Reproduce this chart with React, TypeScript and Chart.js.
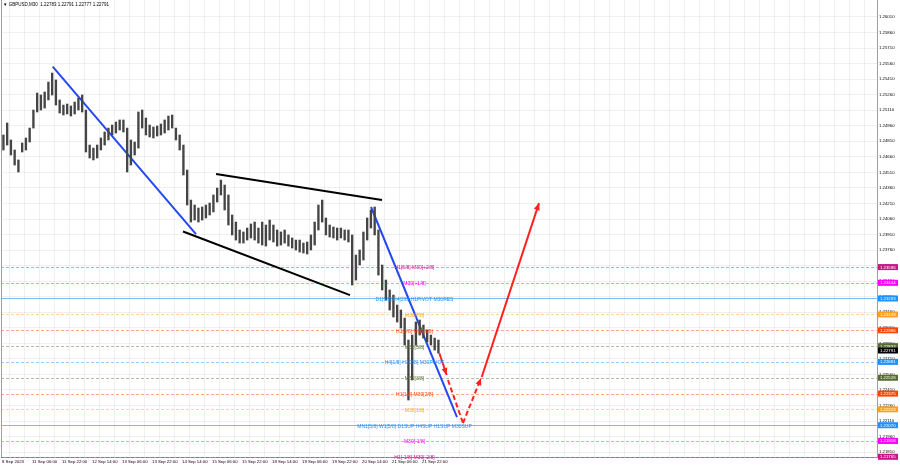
import React, { useEffect, useRef } from "react";
import { Chart, registerables } from "chart.js";
Chart.register(...registerables);

// ---- data (GBPUSD M30, aggregated 4 bars per entry) ----
const BARS_PER_ENTRY = 4;
const highs = [
  1.24871, 1.24987, 1.24823, 1.24726, 1.2463, 1.24794, 1.24842, 1.24938, 1.25112, 1.25276,
  1.25257, 1.25286, 1.25382, 1.25469, 1.25402, 1.25209, 1.2516, 1.2517, 1.25151, 1.25189,
  1.25228, 1.25257, 1.25112, 1.24774, 1.24745, 1.24774, 1.24842, 1.249, 1.24938, 1.24967,
  1.24996, 1.25016, 1.25016, 1.24938, 1.24823, 1.24803, 1.25093, 1.25112, 1.25035, 1.24967,
  1.24948, 1.24958, 1.24977, 1.25016, 1.25054, 1.25064, 1.24938, 1.24871, 1.24774, 1.24533,
  1.24243, 1.24195, 1.24166, 1.24176, 1.24195, 1.24214, 1.24292, 1.24359, 1.24436, 1.24388,
  1.24292, 1.24099, 1.24031, 1.23954, 1.23935, 1.23973, 1.24012, 1.24031, 1.23973, 1.24031,
  1.24002, 1.2405, 1.24002, 1.23954, 1.23935, 1.23954, 1.23906, 1.23877, 1.23857, 1.23857,
  1.23828, 1.23838, 1.23906, 1.24031, 1.24195, 1.24243, 1.2407, 1.24002, 1.23983, 1.23973,
  1.23973, 1.23954, 1.23954, 1.23906, 1.23712, 1.23761, 1.23935, 1.2407, 1.24147, 1.24176,
  1.23954, 1.23616, 1.23471, 1.23375, 1.23326, 1.2323, 1.23182, 1.23104, 1.22892, 1.2294,
  1.23066, 1.23085, 1.23037, 1.22989, 1.2294, 1.22911, 1.22892,
];
const lows = [
  1.24726, 1.24774, 1.24678, 1.24581, 1.24514, 1.24707, 1.24726, 1.24803, 1.24938, 1.25093,
  1.25112, 1.25131, 1.25209, 1.25257, 1.2516, 1.25083, 1.25064, 1.25074, 1.25054, 1.25074,
  1.25112, 1.25093, 1.24707, 1.24649, 1.2463, 1.24649, 1.24726, 1.24774, 1.24823, 1.24871,
  1.2489, 1.24919, 1.249, 1.24514, 1.24581, 1.24678, 1.24745, 1.24938, 1.24871, 1.24852,
  1.24842, 1.24861, 1.24871, 1.2489, 1.24919, 1.24938, 1.24823, 1.24726, 1.24485, 1.24195,
  1.24031, 1.2405, 1.24031, 1.2405, 1.2407, 1.24099, 1.24128, 1.24224, 1.24292, 1.24147,
  1.24002, 1.23906, 1.23857, 1.23828, 1.23828, 1.23857, 1.23877, 1.23857, 1.23828, 1.23809,
  1.23799, 1.23857, 1.23838, 1.23799, 1.23809, 1.23828, 1.23799, 1.2378, 1.23761, 1.23741,
  1.23732, 1.23722, 1.23761, 1.23809, 1.23954, 1.24031, 1.23906, 1.23886, 1.23877, 1.23857,
  1.23877, 1.23857, 1.23838, 1.23423, 1.23471, 1.23616, 1.23664, 1.23857, 1.23973, 1.23906,
  1.23519, 1.23375, 1.23278, 1.23182, 1.23114, 1.23066, 1.23008, 1.22844, 1.22313, 1.22506,
  1.22844, 1.2294, 1.22911, 1.22873, 1.22844, 1.22795, 1.22766,
];
const lastPrice = 1.22791;

const xTickLabels = [
  "8 Sep 2023", "11 Sep 06:00", "11 Sep 22:00", "12 Sep 14:00", "13 Sep 06:00",
  "13 Sep 22:00", "14 Sep 14:00", "15 Sep 06:00", "15 Sep 22:00", "18 Sep 14:00",
  "19 Sep 06:00", "19 Sep 22:00", "20 Sep 14:00", "21 Sep 06:00", "21 Sep 22:00",
];
const BARS_PER_LABEL = 32;
const yTickValues = [
  1.2601, 1.2586, 1.2571, 1.2556, 1.2541, 1.2526, 1.2511, 1.2496, 1.2481, 1.2466,
  1.2451, 1.2436, 1.2421, 1.2406, 1.2391, 1.2376, 1.2361, 1.2346, 1.2331, 1.2316,
  1.2301, 1.2286, 1.2271, 1.2256, 1.2241, 1.2226, 1.2211, 1.2196, 1.2181,
];

// Murrey levels
const levelPrices = [1.23596, 1.23444, 1.23293, 1.23139, 1.22986, 1.22833, 1.22681, 1.22528, 1.22375, 1.22223, 1.2207, 1.21918, 1.21765];
const levelNames = [
  "H1[5/8] M30[+2/8]", "M30[+1/8]", "D1[5/8] H4[2/8] H1PIVOT M30RES", "M30[7/8]",
  "H1[3/8] M30[6/8]", "M30[5/8]", "H4[1/8] H1[2/8] M30PIVOT", "M30[3/8]",
  "H1[1/8] M30[2/8]", "M30[1/8]", "MN1[5/8] W1[5/8] D1SUP H4SUP H1SUP M30SUP",
  "M30[-1/8]", "H1[-1/8] M30[-2/8]",
];
const levelColors = [
  "#c8158c", "#ff00ff", "#1e90ff", "#ffa020", "#ff4500", "#556b2f", "#1e90ff",
  "#556b2f", "#ff4500", "#ffa020", "#1e90ff", "#ff00ff", "#c8158c",
];
const levelSolid = [false, false, true, false, false, false, false, false, false, false, true, false, false];

// drawn objects (x in M30 bar index, y in price)
const blueLine1 = [{ x: 54.1, y: 1.2553 }, { x: 206.9, y: 1.23915 }];
const wedgeUpper = [{ x: 228.3, y: 1.24494 }, { x: 405.3, y: 1.24243 }];
const wedgeLower = [{ x: 193.1, y: 1.23939 }, { x: 371.2, y: 1.23326 }];
const blueLine2 = [{ x: 393.6, y: 1.24176 }, { x: 485.3, y: 1.22149 }];
const redSolid1 = [{ x: 466.5, y: 1.22764 }, { x: 474.3, y: 1.22554 }];
const redDash1 = [{ x: 475.7, y: 1.22506 }, { x: 491.7, y: 1.22091 }];
const redDash2 = [{ x: 491.7, y: 1.22091 }, { x: 511.0, y: 1.22525 }];
const redSolid2 = [{ x: 511.7, y: 1.22535 }, { x: 572.8, y: 1.24214 }];
const arrowSegments = [redSolid1, redDash2, redSolid2];

const FONT = "'Liberation Sans', Arial, sans-serif";
const LABEL_BAR = 440;

function withAlpha(hex: string, a: number) {
  const n = parseInt(hex.slice(1), 16);
  return `rgba(${(n >> 16) & 255},${(n >> 8) & 255},${n & 255},${a})`;
}

export default function App() {
  const ref = useRef<HTMLCanvasElement>(null);
  useEffect(() => {
    document.body.style.margin = "0";
    const canvas = ref.current!;
    const candles = highs.map((h, k) => ({ x: k * BARS_PER_ENTRY + 1.5, y: [lows[k], h] }));
    const lineDs = (data: any[], color: string, dash: number[] = []) => ({
      type: "line" as const,
      data,
      borderColor: color,
      borderWidth: 2,
      borderDash: dash,
      pointRadius: 0,
      fill: false,
      tension: 0,
    });

    const overlay = {
      id: "overlay",
      beforeDatasetsDraw(chart: any) {
        const { ctx, chartArea: a, scales } = chart;
        const y = scales.y;
        ctx.save();
        levelPrices.forEach((p, i) => {
          const py = Math.round(y.getPixelForValue(p)) + 0.5;
          ctx.strokeStyle = withAlpha(levelColors[i], levelSolid[i] ? 0.6 : 0.45);
          ctx.setLineDash(levelSolid[i] ? [] : [3, 2]);
          ctx.lineWidth = 1;
          ctx.beginPath();
          ctx.moveTo(a.left, py);
          ctx.lineTo(a.right, py);
          ctx.stroke();
        });
        ctx.restore();
      },
      afterDatasetsDraw(chart: any) {
        const { ctx, scales } = chart;
        const x = scales.x, y = scales.y;
        ctx.save();
        // arrowheads
        ctx.fillStyle = "#ff2020";
        arrowSegments.forEach((seg) => {
          const x0 = x.getPixelForValue(seg[0].x), y0 = y.getPixelForValue(seg[0].y);
          const x1 = x.getPixelForValue(seg[1].x), y1 = y.getPixelForValue(seg[1].y);
          const ang = Math.atan2(y1 - y0, x1 - x0);
          const L = 7, W = 3;
          ctx.beginPath();
          ctx.moveTo(x1, y1);
          ctx.lineTo(x1 - L * Math.cos(ang) + W * Math.sin(ang), y1 - L * Math.sin(ang) - W * Math.cos(ang));
          ctx.lineTo(x1 - L * Math.cos(ang) - W * Math.sin(ang), y1 - L * Math.sin(ang) + W * Math.cos(ang));
          ctx.closePath();
          ctx.fill();
        });
        // level labels
        ctx.font = `5px ${FONT}`;
        ctx.textAlign = "center";
        ctx.textBaseline = "middle";
        const lx = x.getPixelForValue(LABEL_BAR);
        levelPrices.forEach((p, i) => {
          ctx.fillStyle = levelColors[i];
          ctx.fillText(levelNames[i], lx, y.getPixelForValue(p) + 1);
        });
        ctx.restore();
      },
      afterDraw(chart: any) {
        const { ctx, chartArea: a, scales } = chart;
        const y = scales.y;
        ctx.save();
        // left border
        ctx.strokeStyle = "#a0a0a0";
        ctx.lineWidth = 1;
        ctx.beginPath();
        ctx.moveTo(a.left + 0.5, a.top);
        ctx.lineTo(a.left + 0.5, a.bottom);
        ctx.stroke();
        // price boxes
        ctx.font = `4.3px ${FONT}`;
        ctx.textBaseline = "middle";
        ctx.textAlign = "left";
        const box = (p: number, bg: string) => {
          const py = y.getPixelForValue(p);
          ctx.fillStyle = bg;
          ctx.fillRect(a.right + 1, py - 3, 20, 6);
          ctx.fillStyle = "#ffffff";
          ctx.fillText(p.toFixed(5), a.right + 3, py + 0.3);
        };
        levelPrices.forEach((p, i) => box(p, levelColors[i]));
        box(lastPrice, "#000000");
        // title
        ctx.fillStyle = "#000";
        ctx.font = `4.5px ${FONT}`;
        ctx.fillText("▼ GBPUSD,M30  1.22783 1.22791 1.22777 1.22791", 3, 4.5);
        ctx.restore();
      },
    };

    const gridColor = "rgba(0,0,0,0.06)";
    const chart = new Chart(canvas, {
      type: "bar",
      data: {
        datasets: [
          {
            type: "bar",
            data: candles as any,
            backgroundColor: "#454545",
            borderWidth: 0,
            barThickness: 1.7,
            borderSkipped: false,
          } as any,
          lineDs(blueLine1, "#2448f2"),
          lineDs(wedgeUpper, "#000000"),
          lineDs(wedgeLower, "#000000"),
          lineDs(blueLine2, "#2448f2"),
          lineDs(redSolid1, "#ff2020"),
          lineDs(redDash1, "#ff2020", [5, 3]),
          lineDs(redDash2, "#ff2020", [5, 3]),
          lineDs(redSolid2, "#ff2020"),
        ] as any,
      },
      options: {
        responsive: false,
        animation: false,
        events: [],
        layout: { padding: { left: 1, top: 0, right: 0, bottom: 0 } },
        plugins: { legend: { display: false }, tooltip: { enabled: false }, title: { display: false } },
        scales: {
          x: {
            type: "linear",
            position: "bottom",
            min: -1.07,
            max: 933.3,
            offset: false,
            grid: { color: gridColor, drawTicks: false, lineWidth: 1 },
            border: { display: true, color: "#a0a0a0" },
            afterBuildTicks: (s: any) => {
              const t = [];
              for (let v = 0; v <= 928; v += BARS_PER_LABEL / 2) t.push({ value: v });
              s.ticks = t;
            },
            afterFit: (s: any) => {
              s.height = 11;
              s.paddingLeft = 0;
              s.paddingRight = 0;
            },
            ticks: {
              autoSkip: false,
              maxRotation: 0,
              minRotation: 0,
              align: "start",
              padding: 2,
              color: "#000",
              font: { family: FONT, size: 4.3 },
              callback: (v: any) => {
                const n = Number(v);
                if (n % BARS_PER_LABEL !== 0) return "";
                return xTickLabels[n / BARS_PER_LABEL] ?? "";
              },
            },
          },
          y: {
            type: "linear",
            position: "right",
            min: 1.21763,
            max: 1.26174,
            grid: { color: gridColor, drawTicks: false, lineWidth: 1 },
            border: { display: true, color: "#a0a0a0" },
            afterBuildTicks: (s: any) => {
              s.ticks = yTickValues.map((v) => ({ value: v }));
            },
            afterFit: (s: any) => {
              s.width = 23;
              s.paddingTop = 0;
              s.paddingBottom = 0;
            },
            ticks: {
              autoSkip: false,
              padding: 2,
              color: "#000",
              font: { family: FONT, size: 4.3 },
              callback: (v: any) => Number(v).toFixed(5),
            },
          },
        },
      } as any,
      plugins: [overlay],
    });
    return () => chart.destroy();
  }, []);
  return (
    <div style={{ position: "fixed", left: 0, top: 0, width: 900, height: 468, background: "#fff" }}>
      <canvas ref={ref} width={900} height={468} style={{ display: "block", width: 900, height: 468 }} />
    </div>
  );
}
